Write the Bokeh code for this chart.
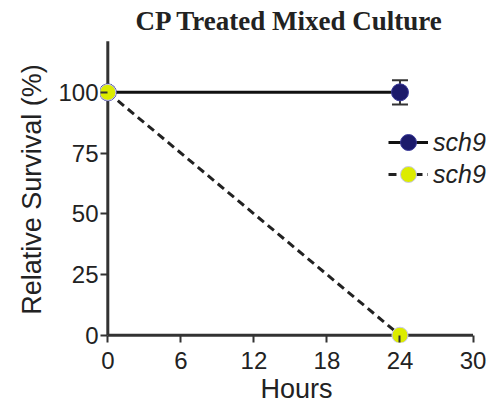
from bokeh.plotting import figure
from bokeh.models import (Range1d, FixedTicker, ColumnDataSource, Whisker, TeeHead,
                          Legend, LegendItem)
from bokeh.core.properties import value
from bokeh.embed import file_html
from bokeh.resources import INLINE

# Data
hours = [0, 24]
surv_a = [100, 100]      # sch9 (navy, solid)
err_a = [0, 5]
surv_b = [100, 0]        # sch9 (yellow, dashed)
x_ticks = [0, 6, 12, 18, 24, 30]
y_ticks = [0, 25, 50, 75, 100]
x_bounds = (0, 30)
y_bounds = (0, 121)
title_text = "CP Treated Mixed Culture"
x_label = "Hours"
y_label = "Relative Survival (%)"
legend_labels = ["sch9", "sch9"]

p = figure(width=492, height=406, output_backend="svg", toolbar_location=None,
           x_range=Range1d(-0.6, 31.6), y_range=Range1d(-3, 123),
           min_border_left=100, min_border_right=0, min_border_top=36,
           min_border_bottom=63)
p.background_fill_color = "white"
p.border_fill_color = "white"
p.outline_line_color = None
p.xgrid.visible = False
p.ygrid.visible = False

p.title.text = title_text
p.title.text_font = "Liberation Serif"
p.title.text_font_size = "27px"
p.title.text_font_style = "bold"
p.title.align = "left"
p.title.offset = 35
p.title.text_color = "#222222"
p.title.standoff = 2

for ax in (p.xaxis[0], p.yaxis[0]):
    ax.axis_line_color = None
    ax.major_tick_line_width = 2
    ax.major_tick_line_color = "#333333"
    ax.major_tick_out = 0
    ax.major_tick_in = 7
    ax.minor_tick_line_color = None
    ax.major_label_text_font = "Liberation Sans"
    ax.major_label_text_font_size = "24px"
    ax.major_label_text_color = "#222222"
    ax.axis_label_text_font = "Liberation Sans"
    ax.axis_label_text_font_size = "27px"
    ax.axis_label_text_font_style = "normal"
    ax.axis_label_text_color = "#222222"

p.xaxis.ticker = FixedTicker(ticks=x_ticks)
p.yaxis.ticker = FixedTicker(ticks=y_ticks)
p.xaxis.axis_label = x_label
p.yaxis.axis_label = y_label
p.xaxis.major_label_standoff = 9
p.yaxis.major_label_standoff = 2
p.xaxis.major_label_text_line_height = 0.8
p.xaxis.axis_label_text_line_height = 0.75
p.xaxis.axis_label_standoff = 2
p.yaxis.axis_label_standoff = 8

# axis lines crossing at the origin
p.segment(x0=[x_bounds[0], 0], y0=[0, y_bounds[0]], x1=[x_bounds[1], 0],
          y1=[0, y_bounds[1]], line_color="#333333", line_width=3)

navy = "#1c1a6b"
yellow = "#dcec00"

l1 = p.line(hours, surv_a, line_color="#111111", line_width=3)
err_x = [h for h, e in zip(hours, err_a) if e > 0]
err_up = [v + e for v, e in zip(surv_a, err_a) if e > 0]
err_lo = [v - e for v, e in zip(surv_a, err_a) if e > 0]
wsrc = ColumnDataSource(dict(x=err_x, up=err_up, lo=err_lo))
w = Whisker(source=wsrc, base="x", upper="up", lower="lo", line_color="#333333",
            line_width=2,
            upper_head=TeeHead(size=16, line_color="#333333", line_width=2),
            lower_head=TeeHead(size=16, line_color="#333333", line_width=2))
p.add_layout(w)
s1 = p.scatter(hours, surv_a, size=17, fill_color=navy, line_color="#3a3a9a",
               line_width=1)

l2 = p.line(hours, surv_b, line_color="#222222", line_width=3, line_dash="8 5")
s2 = p.scatter(hours, surv_b, size=16, fill_color=yellow, line_color="#c8c8f0",
               line_width=1)

legend_style = dict(padding=0, margin=0, spacing=0,
                    glyph_width=40, glyph_height=40, label_height=40, label_standoff=5,
                    border_line_color=None, background_fill_alpha=0,
                    label_text_font="Liberation Sans", label_text_font_size="25px",
                    label_text_font_style="italic", label_text_color="#222222")
legend1 = Legend(items=[LegendItem(label=value(legend_labels[0]), renderers=[l1, s1])],
                 location=(288, 180), **legend_style)
legend2 = Legend(items=[LegendItem(label=value(legend_labels[1]), renderers=[l2, s2])],
                 location=(288, 148), **legend_style)
p.add_layout(legend1)
p.add_layout(legend2)

open("out.html", "w").write(file_html(p, INLINE))
